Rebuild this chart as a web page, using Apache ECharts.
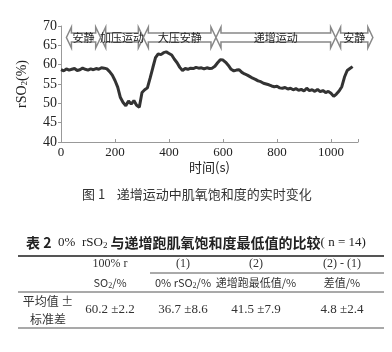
<!DOCTYPE html>
<html>
<head>
<meta charset="utf-8">
<script src="https://cdn.jsdelivr.net/npm/echarts@6/dist/echarts.min.js"></script>
<style>
  html, body { margin: 0; padding: 0; background: #fff; }
  #chart { width: 392px; height: 352px; }
</style>
</head>
<body>
<div id="chart"></div>
<script>
// 时间 (s) 与 rSO2 (%)
var times = [0, 10, 20, 30, 40, 50, 60, 70, 80, 90, 100, 110, 120, 130, 140, 150, 160, 170, 180, 190,
  200, 210, 220, 230, 240, 250, 260, 270, 280, 290, 300, 310, 320, 330, 340, 350, 360, 370, 380, 390,
  400, 410, 420, 430, 440, 450, 460, 470, 480, 490, 500, 510, 520, 530, 540, 550, 560, 570, 580, 590,
  600, 610, 620, 630, 640, 650, 660, 670, 680, 690, 700, 710, 720, 730, 740, 750, 760, 770, 780, 790,
  800, 810, 820, 830, 840, 850, 860, 870, 880, 890, 900, 910, 920, 930, 940, 950, 960, 970, 980, 990,
  1000, 1010, 1020, 1030, 1040, 1050, 1060, 1070, 1080];
var rso2 = [58.7, 58.4, 58.9, 58.6, 58.8, 59.0, 58.5, 58.7, 59.1, 58.8, 58.6, 58.9, 58.7, 59.0, 58.8, 59.2, 59.1, 58.9, 58.2, 57.3,
  55.9, 54.2, 51.5, 50.2, 49.4, 50.6, 49.8, 50.7, 49.5, 49.0, 52.8, 53.5, 54.0, 56.5, 59.2, 61.8, 62.8, 62.6, 63.1, 63.3,
  62.9, 62.5, 61.4, 60.5, 59.3, 58.5, 59.0, 58.8, 59.1, 59.0, 59.3, 59.1, 59.2, 58.9, 59.2, 59.0, 59.1, 59.6, 60.5, 61.3,
  61.2, 60.6, 59.8, 58.8, 58.4, 58.6, 58.7, 58.0, 57.6, 57.3, 56.9, 56.5, 56.2, 55.8, 55.6, 55.2, 55.0, 54.8, 54.5, 54.3,
  54.4, 54.0, 53.9, 54.1, 53.7, 53.9, 53.5, 53.8, 53.4, 53.6, 53.2, 53.9, 53.3, 53.5, 53.1, 53.6, 53.0, 53.3, 52.8, 53.1,
  52.6, 51.8, 52.4, 53.2, 54.3, 56.8, 58.5, 59.0, 59.5];

// 阶段
var phaseNames = ['安静', '加压运动', '大压安静', '递增运动', '安静'];
var phaseStart = [20, 147, 305, 574, 1017];
var phaseEnd = [147, 305, 574, 1017, 1155];

var yTicks = [40, 45, 50, 55, 60, 65, 70];
var xTicks = [0, 200, 400, 600, 800, 1000];

// 表 2
var tableHead1 = ['100% r', '(1)', '(2)', '(2) - (1)'];
var tableHead2 = ['SO{s|2}/%', '0% rSO{s|2}/%', '递增跑最低值/%', '差值/%'];
var rowLabel = ['平均值 ±', '标准差'];
var means = [60.2, 36.7, 41.5, 4.8];
var sds = [2.2, 8.6, 7.9, 2.4];

var serif = '"Liberation Serif", "DejaVu Serif", serif';
var cjk = '"Noto Sans CJK SC", sans-serif';

var lineData = times.map(function (t, i) { return [t, rso2[i]]; });
var phaseData = phaseStart.map(function (s, i) { return [s, phaseEnd[i]]; });

var colX = [48, 110, 183, 256, 342];
var graphics = [];

// 图注
graphics.push({
  type: 'text', left: 82, top: 188,
  style: { text: '图 1    递增运动中肌氧饱和度的实时变化', font: '13px ' + cjk, fill: '#333' }
});
// 表题
graphics.push({
  type: 'text', left: 26, top: 236,
  style: {
    text: '{b|表 2}  {n|0%  rSO}{ns|2}{b| 与递增跑肌氧饱和度最低值的比较}{n|( n = 14)}',
    rich: {
      b: { font: 'bold 14px ' + cjk, fill: '#222' },
      n: { font: '13px ' + serif, fill: '#222' },
      ns: { font: '9px ' + serif, fill: '#222', verticalAlign: 'bottom', padding: [6, 0, 0, 0] }
    }
  }
});
// 表线
[[256, 18, 2], [273, 150, 1], [292, 18, 1.2], [328, 18, 1.2]].forEach(function (l) {
  graphics.push({
    type: 'line', shape: { x1: l[1], y1: l[0], x2: 384, y2: l[0] },
    style: { stroke: '#555', lineWidth: l[2] }
  });
});
tableHead1.forEach(function (h, i) {
  graphics.push({
    type: 'text', x: colX[i + 1], y: 264,
    style: { text: h, align: 'center', verticalAlign: 'middle', font: '12px ' + serif, fill: '#333' }
  });
});
tableHead2.forEach(function (h, i) {
  graphics.push({
    type: 'text', x: colX[i + 1], y: 283,
    style: {
      text: h, align: 'center', verticalAlign: 'middle', font: '11px ' + cjk, fill: '#333',
      rich: { s: { font: '8px ' + serif, fill: '#333', padding: [6, 0, 0, 0] } }
    }
  });
});
rowLabel.forEach(function (r, i) {
  graphics.push({
    type: 'text', x: colX[0], y: 301 + i * 18,
    style: { text: r, align: 'center', verticalAlign: 'middle', font: '12px ' + cjk, fill: '#333' }
  });
});
means.forEach(function (m, i) {
  graphics.push({
    type: 'text', x: colX[i + 1], y: 310,
    style: {
      text: m.toFixed(1) + ' ±' + sds[i].toFixed(1), align: 'center', verticalAlign: 'middle',
      font: '13px ' + serif, fill: '#333'
    }
  });
});

var myChart = echarts.init(document.getElementById('chart'));
var option = {
  animation: false,
  backgroundColor: '#fff',
  grid: { left: 61, right: 34, top: 26, bottom: 210 },
  xAxis: {
    type: 'value',
    min: 0, max: 1100, interval: 200,
    name: '时间(s)',
    nameLocation: 'middle',
    nameGap: 19,
    nameTextStyle: { fontFamily: cjk, fontSize: 13, color: '#222' },
    axisLine: { lineStyle: { color: '#999', width: 1 } },
    axisTick: { show: true, inside: true, length: 3, lineStyle: { color: '#999' } },
    splitLine: { show: false },
    axisLabel: {
      color: '#222', fontFamily: serif, fontSize: 13, margin: 4,
      formatter: function (v) { return xTicks.indexOf(v) > -1 ? v : ''; }
    }
  },
  yAxis: {
    type: 'value',
    min: 40, max: 70, interval: 5,
    name: 'rSO{s|2}(%)',
    nameLocation: 'middle',
    nameGap: 32,
    nameTextStyle: {
      fontFamily: serif, fontSize: 14, color: '#222',
      rich: { s: { fontFamily: serif, fontSize: 9, color: '#222', padding: [0, 0, -6, 0] } }
    },
    axisLine: { show: true, lineStyle: { color: '#999', width: 1 } },
    axisTick: { show: true, length: 3, lineStyle: { color: '#999' } },
    splitLine: { show: false },
    axisLabel: {
      color: '#222', fontFamily: serif, fontSize: 14, margin: 4,
      formatter: function (v) { return yTicks.indexOf(v) > -1 ? v : ''; }
    }
  },
  series: [
    {
      type: 'line',
      data: lineData,
      showSymbol: false,
      lineStyle: { color: '#333', width: 3 },
      z: 3
    },
    {
      type: 'custom',
      data: phaseData,
      encode: { x: [0, 1] },
      clip: false,
      z: 4,
      renderItem: function (params, api) {
        var s = api.coord([api.value(0), 70]);
        var e = api.coord([api.value(1), 70]);
        var x0 = s[0], x1 = e[0], top = s[1] + 1;
        var hw = 5;
        var pts = [
          [x0, top + 10.5], [x0 + hw, top], [x0 + hw, top + 6], [x1 - hw, top + 6],
          [x1 - hw, top], [x1, top + 10.5], [x1 - hw, top + 21], [x1 - hw, top + 15],
          [x0 + hw, top + 15], [x0 + hw, top + 21]
        ];
        return {
          type: 'group',
          children: [
            { type: 'polygon', shape: { points: pts }, style: { fill: '#fff', stroke: '#888', lineWidth: 1.5 } },
            {
              type: 'text',
              style: {
                text: phaseNames[params.dataIndex], x: (x0 + x1) / 2, y: top + 10.5,
                align: 'center', verticalAlign: 'middle', font: '11px ' + cjk, fill: '#222'
              }
            }
          ]
        };
      }
    }
  ],
  graphic: graphics
};
myChart.setOption(option);
</script>
</body>
</html>
